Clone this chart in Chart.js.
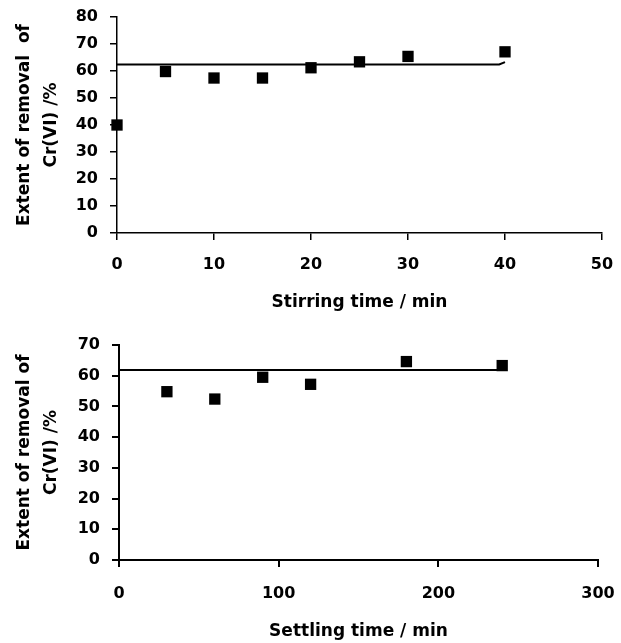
<!DOCTYPE html>
<html>
<head>
<meta charset="utf-8">
<script src="https://cdn.jsdelivr.net/npm/chart.js@4"></script>
<style>
  body { margin: 0; background: #fff; }
  .box { position: absolute; left: 0; width: 621px; }
  #top { top: 0; height: 320px; }
  #bottom { top: 320px; height: 323px; }
</style>
</head>
<body>
<div class="box" id="top"><canvas id="stirring"></canvas></div>
<div class="box" id="bottom"><canvas id="settling"></canvas></div>
<script>
// stirring time experiment
const stirTimes = [ 0, 5, 10, 15, 20, 25, 30, 40 ]
const stirRemoval = [ 40, 59.8, 57.4, 57.4, 61.2, 63.4, 65.4, 67.1 ]
const stirLineX = [ 0, 39.4, 40 ]
const stirLineY = [ 62.4, 62.4, 63.3 ]

// settling time experiment
const settleTimes = [ 30, 60, 90, 120, 180, 240 ]
const settleRemoval = [ 54.8, 52.4, 59.5, 57.2, 64.6, 63.3 ]
const settleLineX = [ 0, 240 ]
const settleLineY = [ 61.9, 61.9 ]

const yTitle = [ 'Extent of removal  of', 'Cr(VI) /%' ]
const yTitle2 = [ 'Extent of removal of', 'Cr(VI) /%' ]

Chart.defaults.font.family = '"DejaVu Sans", sans-serif'
Chart.defaults.font.weight = 'bold'
Chart.defaults.font.size = 16
Chart.defaults.color = '#000'

const toPoints = (xs, ys) => xs.map((x, i) => ({ x: x, y: ys[i] }))

function makeChart(canvasId, cfg) {
  return new Chart(document.getElementById(canvasId), {
    type: 'scatter',
    data: {
      datasets: [
        {
          data: toPoints(cfg.xs, cfg.ys),
          pointStyle: 'rect',
          pointRadius: 8,
          pointBorderWidth: 0,
          backgroundColor: '#000',
          borderColor: '#000',
          clip: false
        },
        {
          type: 'line',
          data: toPoints(cfg.lineX, cfg.lineY),
          showLine: true,
          pointRadius: 0,
          borderColor: '#000',
          borderWidth: 2,
          tension: 0
        }
      ]
    },
    options: {
      responsive: true,
      maintainAspectRatio: false,
      animation: false,
      layout: { padding: { top: cfg.padTop, right: cfg.padRight, left: 0, bottom: 0 } },
      plugins: { legend: { display: false }, tooltip: { enabled: false } },
      scales: {
        x: {
          type: 'linear',
          min: 0,
          max: cfg.xMax,
          border: { display: true, color: '#000', width: cfg.axisWidth },
          grid: { display: true, drawOnChartArea: false, drawTicks: true, tickLength: 7, color: '#000', lineWidth: cfg.axisWidth },
          ticks: { stepSize: cfg.xStep, padding: cfg.xTickPad },
          title: { display: true, text: cfg.xTitle, font: { size: 17 }, padding: { top: 0, bottom: cfg.xTitlePad } },
          afterFit: (scale) => {
            scale.height = cfg.xHeight
            scale.paddingLeft = 0
            scale.paddingRight = 0
          }
        },
        y: {
          min: 0,
          max: cfg.yMax,
          border: { display: true, color: '#000', width: cfg.axisWidth },
          grid: { display: true, drawOnChartArea: false, drawTicks: true, tickLength: 7, color: '#000', lineWidth: cfg.axisWidth },
          ticks: { stepSize: 10, padding: 12 },
          title: { display: true, text: cfg.yTitle, font: { size: 17, lineHeight: 1.59 }, padding: { top: 11.5, bottom: 0 } },
          afterFit: (scale) => {
            scale.width = cfg.yWidth
            scale.paddingTop = 0
            scale.paddingBottom = 0
          }
        }
      }
    }
  })
}

let stirring = makeChart('stirring', {
  xs: stirTimes, ys: stirRemoval, lineX: stirLineX, lineY: stirLineY,
  xMax: 50, xStep: 10, yMax: 80, xTitle: 'Stirring time / min', yTitle: yTitle,
  padTop: 17, padRight: 19, xHeight: 87, yWidth: 117, xTickPad: 15.4, xTitlePad: 6.8, axisWidth: 1.5
})

let settling = makeChart('settling', {
  xs: settleTimes, ys: settleRemoval, lineX: settleLineX, lineY: settleLineY,
  xMax: 300, xStep: 100, yMax: 70, xTitle: 'Settling time / min', yTitle: yTitle2,
  padTop: 25, padRight: 23, xHeight: 83, yWidth: 119, xTickPad: 17.4, xTitlePad: 0.8, axisWidth: 2
})
</script>
</body>
</html>
